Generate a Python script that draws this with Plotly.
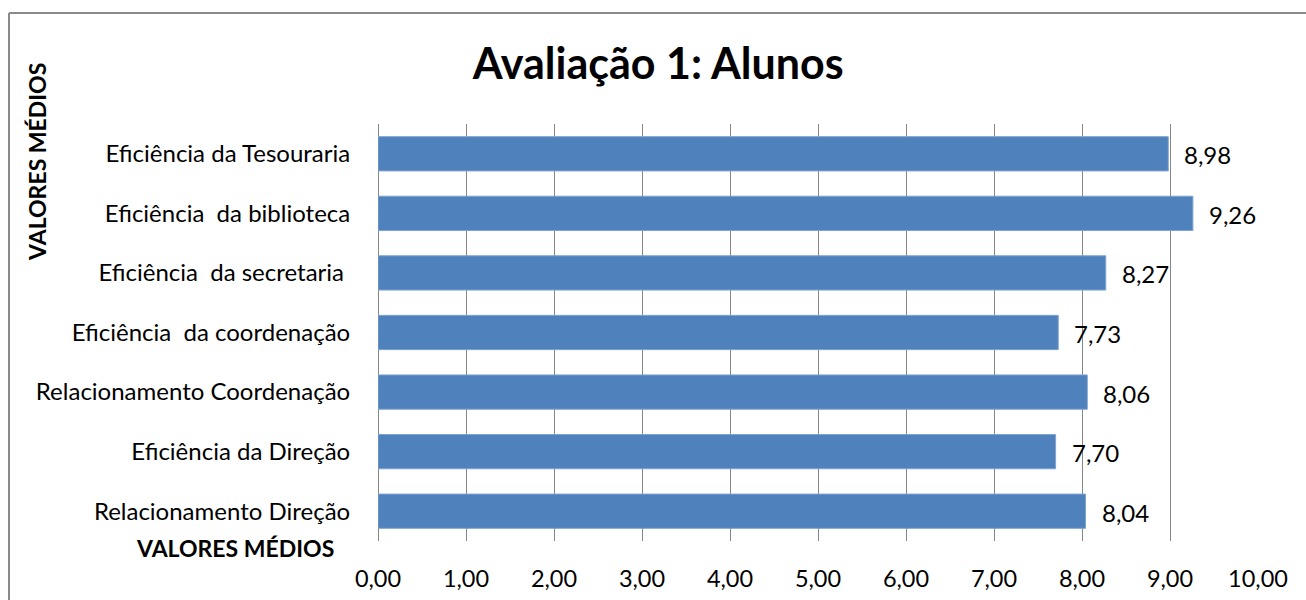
import plotly.graph_objects as go

# Survey categories (bottom to top) and their mean scores
categories = [
    "Relacionamento Direção",
    "Eficiência da Direção",
    "Relacionamento Coordenação",
    "Eficiência  da coordenação",
    "Eficiência  da secretaria ",
    "Eficiência  da biblioteca",
    "Eficiência da Tesouraria",
]
scores = [8.04, 7.70, 8.06, 7.73, 8.27, 9.26, 8.98]
tick_values = [0, 1, 2, 3, 4, 5, 6, 7, 8, 9, 10]
tick_labels = ["0,00", "1,00", "2,00", "3,00", "4,00", "5,00",
               "6,00", "7,00", "8,00", "9,00", "10,00"]

FONT = "Lato"
BAR = "#4F81BD"
GRID = "#878787"


def pt_br(v):
    return f"{v:.2f}".replace(".", ",")


fig = go.Figure(
    go.Bar(
        x=scores,
        y=categories,
        orientation="h",
        marker=dict(color=BAR, line=dict(color="#7EA3CF", width=1)),
        hoverinfo="x+y",
    )
)

# Value labels to the right of each bar
for cat, v in zip(categories, scores):
    fig.add_annotation(
        x=v, y=cat, xref="x", yref="y",
        text=pt_br(v), showarrow=False,
        xanchor="left", yanchor="middle", xshift=14, yshift=-1,
        font=dict(family=FONT, size=24, color="#000000"),
    )

# Axis titles
fig.add_annotation(
    x=-0.3875, y=0.909, xref="paper", yref="paper",
    text="<b>VALORES MÉDIOS</b>", showarrow=False, textangle=-90,
    xanchor="center", yanchor="middle",
    font=dict(family=FONT, size=23, color="#000000"),
)
fig.add_annotation(
    x=-0.1625, y=-0.0144, xref="paper", yref="paper",
    text="<b>VALORES MÉDIOS</b>", showarrow=False,
    xanchor="center", yanchor="middle", yshift=-1,
    font=dict(family=FONT, size=23, color="#000000"),
)

# Chart frame (left and top edges)
fig.add_shape(type="line", xref="paper", yref="paper",
              x0=-0.4193, x1=-0.4193, y0=1.266, y1=-0.3,
              line=dict(color="#8A8A8A", width=2))
fig.add_shape(type="line", xref="paper", yref="paper",
              x0=-0.4193, x1=1.2, y0=1.266, y1=1.266,
              line=dict(color="#8A8A8A", width=2))

fig.update_layout(
    width=1306,
    height=600,
    margin=dict(l=378, r=48, t=124, b=59),
    paper_bgcolor="#FFFFFF",
    plot_bgcolor="#FFFFFF",
    bargap=0.425,
    showlegend=False,
    title=dict(
        text="<b>Avaliação 1: Alunos</b>",
        x=0.504, xanchor="center",
        y=0.893, yanchor="middle",
        font=dict(family=FONT, size=43, color="#000000"),
    ),
    xaxis=dict(
        range=[0, 10],
        tickvals=tick_values,
        ticktext=tick_labels,
        showgrid=True,
        gridcolor=GRID,
        gridwidth=1,
        zeroline=True,
        zerolinecolor=GRID,
        zerolinewidth=1,
        showline=False,
        ticks="outside",
        ticklen=17,
        tickcolor="rgba(0,0,0,0)",
        tickfont=dict(family=FONT, size=23.5, color="#000000"),
        automargin=False,
        fixedrange=True,
    ),
    yaxis=dict(
        categoryorder="array",
        categoryarray=categories,
        showgrid=False,
        showline=False,
        ticks="outside",
        ticklen=22,
        tickcolor="rgba(0,0,0,0)",
        tickfont=dict(family=FONT, size=24, color="#000000"),
        automargin=False,
        fixedrange=True,
    ),
)

fig.write_html("out.html")
